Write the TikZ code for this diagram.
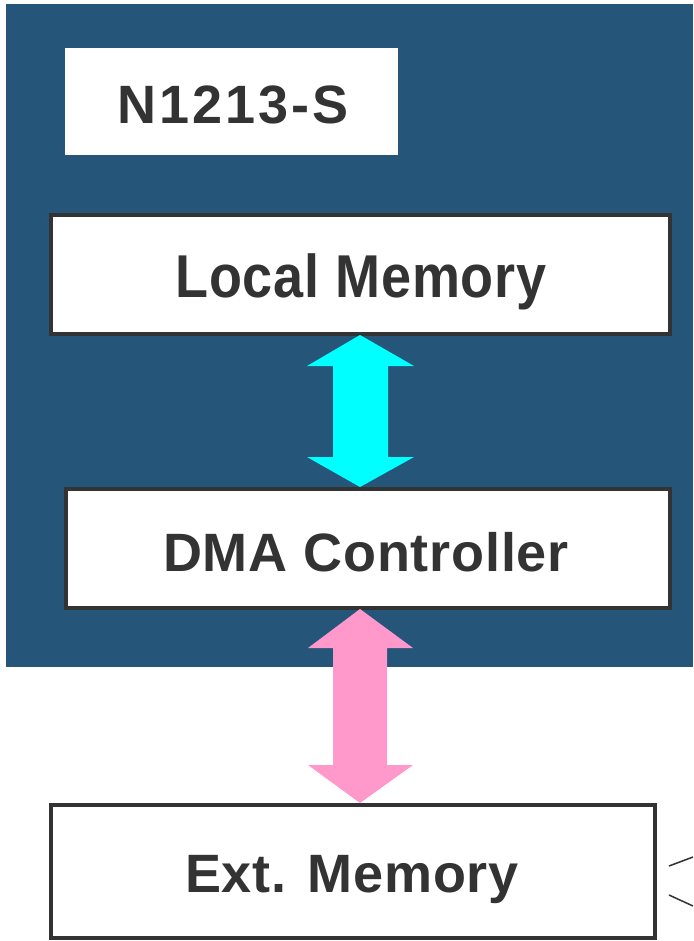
\documentclass[tikz,border=0pt]{standalone}
\usepackage{fontspec}
\setmainfont{Liberation Sans}
\definecolor{panelblue}{RGB}{37,86,122}
\definecolor{inkgray}{RGB}{51,51,51}
\definecolor{linkcyan}{RGB}{0,255,255}
\definecolor{linkpink}{RGB}{255,153,204}
\begin{document}
\begin{tikzpicture}[x=1pt,y=-1pt,
  block/.style={draw=inkgray,line width=4pt,fill=white,inner sep=0pt},
  label/.style={font=\fontsize{54}{60}\selectfont\bfseries\addfontfeatures{LetterSpace=1.5},text=inkgray}]
\useasboundingbox (0,0) rectangle (693,941);
% chip panel
\fill[panelblue] (6,4) rectangle (693,667);
\fill[white] (65,48) rectangle (398,155);
\node[label,font=\fontsize{54}{60}\selectfont\bfseries\addfontfeatures{LetterSpace=5.5}] (chip) at (233,105) {N1213-S};
% blocks
\draw[block] (51,215) rectangle (670,334);
\node[label] (lm) at (361,282) {\scalebox{1}[1.12]{Local Memory}};
\draw[block] (66,489) rectangle (670,608);
\node[label] (dma) at (366,552) {DMA Controller};
\draw[block] (51,805) rectangle (655,938);
\node[label] (ext) at (352,880) {Ext. Memory};
% bidirectional arrows
\fill[linkcyan] (360,335) -- (414,366) -- (388,366) -- (388,457) -- (414,457)
  -- (360,487) -- (307,457) -- (333,457) -- (333,366) -- (307,366) -- cycle;
\fill[linkpink] (360,609) -- (413,648) -- (387,648) -- (387,765) -- (413,765)
  -- (360,803) -- (308,765) -- (333,765) -- (333,648) -- (308,648) -- cycle;
% callout strokes at the right edge
\coordinate (c1a) at (669,866); \coordinate (c1b) at (693,857);
\coordinate (c2a) at (669,895); \coordinate (c2b) at (693,906);
\draw[inkgray,line width=1.5pt] (c1a) -- (c1b);
\draw[inkgray,line width=1.5pt] (c2a) -- (c2b);
\end{tikzpicture}
\end{document}
